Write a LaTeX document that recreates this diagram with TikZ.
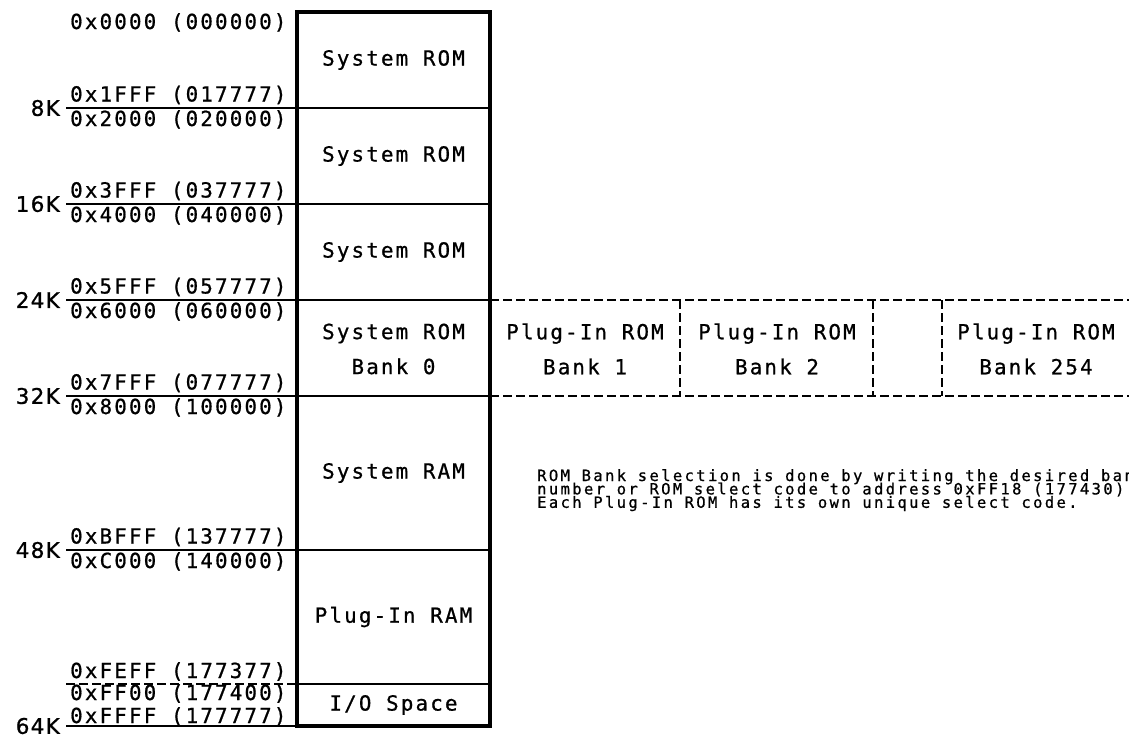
\documentclass[tikz,border=0pt]{standalone}
\usepackage{fontspec}
\newfontfamily\monofont[LetterSpace=10.5,FakeBold=0.8]{DejaVu Sans Mono}
\newfontfamily\smallmono[LetterSpace=15.3,FakeBold=0.8]{DejaVu Sans Mono}
\newfontfamily\labfont[LetterSpace=6,FakeBold=1]{DejaVu Sans}
\begin{document}
\begin{tikzpicture}[x=1pt,y=-1pt,
  boxline/.style={line width=3.4pt},
  divline/.style={line width=2.8pt},
  addrline/.style={line width=2pt},
  bankdash/.style={line width=2.6pt, dash pattern=on 9pt off 4pt},
  regtext/.style={font=\monofont\fontsize{20.8}{35}\selectfont, align=center, inner sep=0pt},
  addr/.style={font=\monofont\fontsize{20.8}{24}\selectfont, inner sep=0pt},
  klabel/.style={font=\labfont\fontsize{21.5}{22}\selectfont, inner sep=0pt, anchor=east},
  note/.style={font=\smallmono\fontsize{15.5}{13.4}\selectfont, inner sep=0pt, anchor=base west}]
\useasboundingbox (0,0) rectangle (1129,734);
\begin{scope}
\clip (0,0) rectangle (1129,734);
% bank area dashed
\draw[bankdash] (490,300) -- (1135,300);
\draw[bankdash] (490,396) -- (1135,396);
\foreach \xx in {680,873,942} \draw[bankdash] (\xx,300) -- (\xx,396);
% address lines
\foreach \yy in {108,204,300,396,550,726} \draw[addrline] (66,\yy) -- (297,\yy);
\draw[addrline, dash pattern=on 9pt off 4pt] (66,684) -- (297,684);
% interior lines
\foreach \yy in {108,204,300,396,550,684} \draw[divline] (297,\yy) -- (490,\yy);
% main box
\draw[boxline] (297,12) rectangle (490,726);
% region texts
\node[regtext] (r1) at (393.5,60) {System ROM};
\node[regtext] (r2) at (393.5,156) {System ROM};
\node[regtext] (r3) at (393.5,252) {System ROM};
\node[regtext] (r4) at (393.5,349) {System ROM\\Bank 0};
\node[regtext] (r5) at (393.5,473) {System RAM};
\node[regtext] (r6) at (393.5,617) {Plug-In RAM};
\node[regtext] (r7) at (393.5,705) {I/O Space};
\node[regtext] (b1) at (585,349) {Plug-In ROM\\Bank 1};
\node[regtext] (b2) at (777,349) {Plug-In ROM\\Bank 2};
\node[regtext] (b254) at (1036,349) {Plug-In ROM\\Bank 254};
% address labels
\node[addr, anchor=base west] (a0) at (70,29) {0x0000 (000000)};
\node[addr, anchor=base west] (a1) at (70,101.5) {0x1FFF (017777)};
\node[addr, anchor=base west] (a2) at (70,126) {0x2000 (020000)};
\node[addr, anchor=base west] (a3) at (70,197.5) {0x3FFF (037777)};
\node[addr, anchor=base west] (a4) at (70,222) {0x4000 (040000)};
\node[addr, anchor=base west] (a5) at (70,293.5) {0x5FFF (057777)};
\node[addr, anchor=base west] (a6) at (70,318) {0x6000 (060000)};
\node[addr, anchor=base west] (a7) at (70,389.5) {0x7FFF (077777)};
\node[addr, anchor=base west] (a8) at (70,414) {0x8000 (100000)};
\node[addr, anchor=base west] (a9) at (70,543.5) {0xBFFF (137777)};
\node[addr, anchor=base west] (a10) at (70,568) {0xC000 (140000)};
\node[addr, anchor=base west] (a11) at (70,678) {0xFEFF (177377)};
\node[addr, anchor=base west] (a12) at (70,700) {0xFF00 (177400)};
\node[addr, anchor=base west] (a13) at (70,723) {0xFFFF (177777)};
% K labels
\node[klabel] (k8) at (60,108) {8K};
\node[klabel] (k16) at (60,204) {16K};
\node[klabel] (k24) at (60,300) {24K};
\node[klabel] (k32) at (60,396) {32K};
\node[klabel] (k48) at (60,550) {48K};
\node[klabel] (k64) at (60,726) {64K};
% note
\node[note] (nt1) at (537,481) {ROM Bank selection is done by writing the desired bank};
\node[note] (nt2) at (537,494.4) {number or ROM select code to address 0xFF18 (177430).};
\node[note] (nt3) at (537,507.8) {Each Plug-In ROM has its own unique select code.};
\end{scope}
\end{tikzpicture}
\end{document}
